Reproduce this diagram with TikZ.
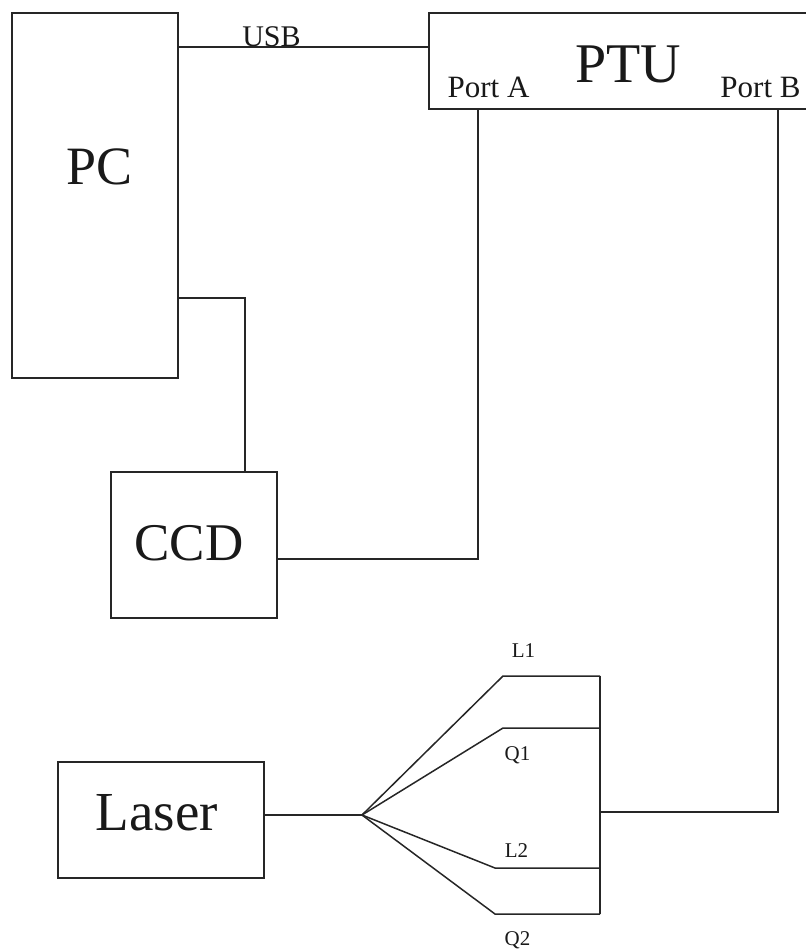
\documentclass[tikz,border=0pt]{standalone}
\usepackage{fontspec}
\setmainfont{Liberation Serif}
\begin{document}
\begin{tikzpicture}[x=1pt,y=-1pt,
  box/.style={draw=black!85,line width=1.5pt,rectangle,inner sep=0pt,anchor=north west},
  wire/.style={draw=black!85,line width=1.5pt},
  lbl/.style={anchor=base,inner sep=0pt,text=black!90},
  fs/.style={font=\fontsize{#1}{#1}\selectfont}]
\useasboundingbox (0,0) rectangle (806,951);
% boxes
\node[box,minimum width=166pt,minimum height=365pt] (PC) at (11,12) {};
\node[box,minimum width=382pt,minimum height=96pt] (PTU) at (428,12) {};
\node[box,minimum width=166pt,minimum height=146pt] (CCD) at (110,471) {};
\node[box,minimum width=206pt,minimum height=116pt] (Laser) at (57,761) {};
% texts
\node[lbl,fs=54] (tPC) at (100,184) {PC};
\node[lbl,fs=56] (tPTU) at (628,82) {PTU};
\node[lbl,fs=31] (tPA) at (488.5,97) {Port A};
\node[lbl,fs=31] (tPB) at (760.5,97) {Port B};
\node[lbl,fs=30] (tUSB) at (271.5,46) {USB};
\node[lbl,fs=53] (tCCD) at (189,560) {CCD};
\node[lbl,fs=55] (tLaser) at (157,830) {Laser};
\node[lbl,fs=21] (tL1) at (523.5,657) {L1};
\node[lbl,fs=21] (tQ1) at (517.5,760) {Q1};
\node[lbl,fs=21] (tL2) at (516.5,857) {L2};
\node[lbl,fs=21] (tQ2) at (517.5,945) {Q2};
% coordinates
\coordinate (usb) at (0,47);
\coordinate (pcc) at (245,298);
\coordinate (ccdy) at (0,559);
\coordinate (pa) at (478,0);
\coordinate (pb) at (778,812);
\coordinate (lasy) at (0,815);
\coordinate (apex) at (362,815);
\coordinate (k1) at (503,676);
\coordinate (k2) at (503,728);
\coordinate (k3) at (495,868);
\coordinate (k4) at (495,914);
\coordinate (b1) at (600,676);
\coordinate (b2) at (600,728);
\coordinate (b3) at (600,868);
\coordinate (b4) at (600,914);
\coordinate (bm) at (600,812);
% connectors
\draw[wire] (PC.east |- usb) -- (PTU.west |- usb);
\draw[wire] (PC.east |- pcc) -- (pcc) -- (CCD.north -| pcc);
\draw[wire] (CCD.east |- ccdy) -- (pa |- ccdy) -- (PTU.south -| pa);
\draw[wire] (PTU.south -| pb) -- (pb) -- (bm);
\draw[wire] (Laser.east |- lasy) -- (apex);
\draw[wire] (apex) -- (k1) -- (b1);
\draw[wire] (apex) -- (k2) -- (b2);
\draw[wire] (apex) -- (k3) -- (b3);
\draw[wire] (apex) -- (k4) -- (b4);
\draw[wire] (b1) -- (b4);
\end{tikzpicture}
\end{document}
